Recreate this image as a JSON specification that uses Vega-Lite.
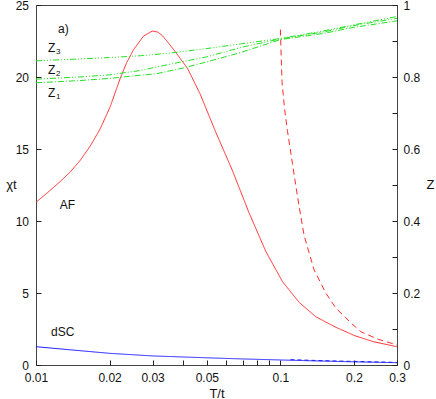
{
  "$schema": "https://vega.github.io/schema/vega-lite/v6.json",
  "width": 361,
  "height": 360,
  "autosize": {"type": "none"},
  "padding": {"left": 36, "top": 5, "right": 39, "bottom": 34},
  "background": "white",
  "config": {
    "view": {"stroke": "#444", "strokeWidth": 1},
    "font": "Liberation Sans",
    "axis": {
      "domain": false,
      "grid": false,
      "ticks": true,
      "tickColor": "#222",
      "tickWidth": 1,
      "tickSize": 5,
      "tickOpacity": 1,
      "offset": -5,
      "zindex": 1,
      "labelFont": "Liberation Sans",
      "labelFontSize": 12,
      "labelColor": "#111",
      "titleFont": "Liberation Sans",
      "titleFontSize": 13,
      "titleFontWeight": "normal",
      "titleColor": "#111"
    }
  },
  "datasets": {
    "chi": [
      {"T": 0.01, "chi": 11.3, "s": "AF"},
      {"T": 0.0112, "chi": 12.0, "s": "AF"},
      {"T": 0.01254, "chi": 12.73, "s": "AF"},
      {"T": 0.0138, "chi": 13.4, "s": "AF"},
      {"T": 0.01515, "chi": 14.2, "s": "AF"},
      {"T": 0.01666, "chi": 15.2, "s": "AF"},
      {"T": 0.01831, "chi": 16.4, "s": "AF"},
      {"T": 0.02012, "chi": 17.94, "s": "AF"},
      {"T": 0.0221, "chi": 19.9, "s": "AF"},
      {"T": 0.0235, "chi": 21.0, "s": "AF"},
      {"T": 0.02507, "chi": 21.9, "s": "AF"},
      {"T": 0.02756, "chi": 22.85, "s": "AF"},
      {"T": 0.0299, "chi": 23.19, "s": "AF"},
      {"T": 0.0315, "chi": 23.12, "s": "AF"},
      {"T": 0.033, "chi": 22.85, "s": "AF"},
      {"T": 0.0345, "chi": 22.45, "s": "AF"},
      {"T": 0.0366, "chi": 21.9, "s": "AF"},
      {"T": 0.0417, "chi": 20.6, "s": "AF"},
      {"T": 0.047, "chi": 18.8, "s": "AF"},
      {"T": 0.0543, "chi": 16.2, "s": "AF"},
      {"T": 0.0635, "chi": 13.54, "s": "AF"},
      {"T": 0.0743, "chi": 10.6, "s": "AF"},
      {"T": 0.0871, "chi": 7.9, "s": "AF"},
      {"T": 0.1019, "chi": 5.8, "s": "AF"},
      {"T": 0.1193, "chi": 4.35, "s": "AF"},
      {"T": 0.1396, "chi": 3.35, "s": "AF"},
      {"T": 0.1686, "chi": 2.62, "s": "AF"},
      {"T": 0.2005, "chi": 2.05, "s": "AF"},
      {"T": 0.24, "chi": 1.62, "s": "AF"},
      {"T": 0.3, "chi": 1.27, "s": "AF"},
      {"T": 0.1, "chi": 23.3, "s": "AF2"},
      {"T": 0.1005, "chi": 22.0, "s": "AF2"},
      {"T": 0.1016, "chi": 19.6, "s": "AF2"},
      {"T": 0.104, "chi": 17.8, "s": "AF2"},
      {"T": 0.1068, "chi": 16.3, "s": "AF2"},
      {"T": 0.112, "chi": 14.0, "s": "AF2"},
      {"T": 0.1175, "chi": 11.69, "s": "AF2"},
      {"T": 0.125, "chi": 9.0, "s": "AF2"},
      {"T": 0.1374, "chi": 6.6, "s": "AF2"},
      {"T": 0.1534, "chi": 5.0, "s": "AF2"},
      {"T": 0.1686, "chi": 3.95, "s": "AF2"},
      {"T": 0.195, "chi": 2.9, "s": "AF2"},
      {"T": 0.2136, "chi": 2.31, "s": "AF2"},
      {"T": 0.25, "chi": 1.8, "s": "AF2"},
      {"T": 0.3, "chi": 1.39, "s": "AF2"},
      {"T": 0.01, "chi": 1.27, "s": "dSC"},
      {"T": 0.015, "chi": 1.0, "s": "dSC"},
      {"T": 0.02, "chi": 0.81, "s": "dSC"},
      {"T": 0.03, "chi": 0.63, "s": "dSC"},
      {"T": 0.05, "chi": 0.5, "s": "dSC"},
      {"T": 0.07, "chi": 0.42, "s": "dSC"},
      {"T": 0.1, "chi": 0.35, "s": "dSC"},
      {"T": 0.15, "chi": 0.27, "s": "dSC"},
      {"T": 0.2, "chi": 0.22, "s": "dSC"},
      {"T": 0.3, "chi": 0.16, "s": "dSC"},
      {"T": 0.11, "chi": 0.37, "s": "dSC2"},
      {"T": 0.15, "chi": 0.3, "s": "dSC2"},
      {"T": 0.2, "chi": 0.25, "s": "dSC2"},
      {"T": 0.3, "chi": 0.18, "s": "dSC2"}
    ],
    "z": [
      {"T": 0.01, "Z": 0.845, "s": "Z3"},
      {"T": 0.015, "Z": 0.85, "s": "Z3"},
      {"T": 0.02, "Z": 0.854, "s": "Z3"},
      {"T": 0.0267, "Z": 0.859, "s": "Z3"},
      {"T": 0.035, "Z": 0.866, "s": "Z3"},
      {"T": 0.05, "Z": 0.879, "s": "Z3"},
      {"T": 0.0688, "Z": 0.892, "s": "Z3"},
      {"T": 0.1, "Z": 0.907, "s": "Z3"},
      {"T": 0.15, "Z": 0.928, "s": "Z3"},
      {"T": 0.2, "Z": 0.945, "s": "Z3"},
      {"T": 0.3, "Z": 0.968, "s": "Z3"},
      {"T": 0.01, "Z": 0.794, "s": "Z2"},
      {"T": 0.015, "Z": 0.8, "s": "Z2"},
      {"T": 0.02, "Z": 0.806, "s": "Z2"},
      {"T": 0.0267, "Z": 0.818, "s": "Z2"},
      {"T": 0.035, "Z": 0.835, "s": "Z2"},
      {"T": 0.05, "Z": 0.856, "s": "Z2"},
      {"T": 0.0688, "Z": 0.882, "s": "Z2"},
      {"T": 0.1, "Z": 0.906, "s": "Z2"},
      {"T": 0.15, "Z": 0.925, "s": "Z2"},
      {"T": 0.2, "Z": 0.943, "s": "Z2"},
      {"T": 0.3, "Z": 0.963, "s": "Z2"},
      {"T": 0.01, "Z": 0.784, "s": "Z1"},
      {"T": 0.015, "Z": 0.79, "s": "Z1"},
      {"T": 0.02, "Z": 0.796, "s": "Z1"},
      {"T": 0.0267, "Z": 0.805, "s": "Z1"},
      {"T": 0.031, "Z": 0.809, "s": "Z1"},
      {"T": 0.04, "Z": 0.825, "s": "Z1"},
      {"T": 0.05, "Z": 0.842, "s": "Z1"},
      {"T": 0.0688, "Z": 0.868, "s": "Z1"},
      {"T": 0.1, "Z": 0.904, "s": "Z1"},
      {"T": 0.15, "Z": 0.921, "s": "Z1"},
      {"T": 0.2, "Z": 0.938, "s": "Z1"},
      {"T": 0.3, "Z": 0.956, "s": "Z1"}
    ],
    "labels": [
      {"T": 0.0123, "chi": 23.33, "label": "a)", "sub": ""},
      {"T": 0.0112, "chi": 22.0, "label": "Z", "sub": "3"},
      {"T": 0.0112, "chi": 20.5, "label": "Z", "sub": "2"},
      {"T": 0.0112, "chi": 18.9, "label": "Z", "sub": "1"},
      {"T": 0.0125, "chi": 11.1, "label": "AF", "sub": ""},
      {"T": 0.01152, "chi": 2.31, "label": "dSC", "sub": ""}
    ]
  },
  "layer": [
    {
      "layer": [
        {
          "data": {"name": "chi"},
          "mark": {"type": "line", "strokeWidth": 1},
          "encoding": {
            "x": {
              "field": "T", "type": "quantitative",
              "scale": {"type": "log", "domain": [0.01, 0.3], "nice": false},
              "axis": {
                "orient": "bottom",
                "values": [0.01, 0.02, 0.03, 0.04, 0.05, 0.06, 0.07, 0.08, 0.09, 0.1, 0.2, 0.3],
                "labelExpr": "((datum.value > 0.035 && datum.value < 0.045) || (datum.value > 0.055 && datum.value < 0.095)) ? '' : format(datum.value, '~g')",
                "labelPadding": 7,
                "labelFlush": false,
                "title": "T/t",
                "titleX": 180.5,
                "titleY": 33,
                "titleBaseline": "middle"
              }
            },
            "y": {
              "field": "chi", "type": "quantitative",
              "scale": {"domain": [0, 25], "nice": false},
              "axis": {
                "orient": "left",
                "values": [0, 2.5, 5, 7.5, 10, 12.5, 15, 17.5, 20, 22.5, 25],
                "labelExpr": "datum.value % 5 == 0 ? format(datum.value, '~g') : ''",
                "labelPadding": 7.5,
                "labelFlush": false,
                "title": "χt",
                "titleAngle": 0,
                "titleX": -30,
                "titleY": 179,
                "titleAlign": "center",
                "titleBaseline": "middle"
              }
            },
            "color": {
              "field": "s", "type": "nominal", "legend": null,
              "scale": {"domain": ["AF", "AF2", "dSC", "dSC2"], "range": ["#ff2a2a", "#ff2a2a", "#1a1aff", "#1a1aff"]}
            },
            "strokeDash": {
              "field": "s", "type": "nominal", "legend": null,
              "scale": {"domain": ["AF", "AF2", "dSC", "dSC2"], "range": [[1, 0], [6, 4], [1, 0], [4, 3]]}
            }
          }
        },
        {
          "data": {"name": "labels"},
          "mark": {"type": "text", "align": "left", "baseline": "middle", "fontSize": 12, "color": "#111", "font": "Liberation Sans"},
          "encoding": {
            "x": {"field": "T", "type": "quantitative"},
            "y": {"field": "chi", "type": "quantitative"},
            "text": {"field": "label"}
          }
        },
        {
          "data": {"name": "labels"},
          "mark": {"type": "text", "align": "left", "baseline": "middle", "fontSize": 8, "dx": 8, "dy": 4, "color": "#111", "font": "Liberation Sans"},
          "encoding": {
            "x": {"field": "T", "type": "quantitative"},
            "y": {"field": "chi", "type": "quantitative"},
            "text": {"field": "sub"}
          }
        }
      ]
    },
    {
      "data": {"name": "z"},
      "mark": {"type": "line", "strokeWidth": 1},
      "encoding": {
        "x": {"field": "T", "type": "quantitative"},
        "y": {
          "field": "Z", "type": "quantitative",
          "scale": {"domain": [0, 1], "nice": false},
          "axis": {
            "orient": "right",
            "values": [0, 0.1, 0.2, 0.3, 0.4, 0.5, 0.6, 0.7, 0.8, 0.9, 1],
            "labelExpr": "round(datum.value * 10) % 2 == 0 ? format(datum.value, '~g') : ''",
            "labelPadding": 6,
            "labelFlush": false,
            "title": "Z",
            "titleAngle": 0,
            "titleX": 38,
            "titleY": 179,
            "titleAlign": "center",
            "titleBaseline": "middle"
          }
        },
        "color": {"value": "#22e022"},
        "strokeDash": {
          "field": "s", "type": "nominal", "legend": null,
          "scale": {"domain": ["Z1", "Z2", "Z3"], "range": [[6, 2, 1, 2], [6, 2, 1, 2, 1, 2], [6, 2, 1, 2, 1, 2, 1, 2]]}
        }
      }
    }
  ],
  "resolve": {"scale": {"y": "independent", "strokeDash": "independent", "color": "independent"}}
}
